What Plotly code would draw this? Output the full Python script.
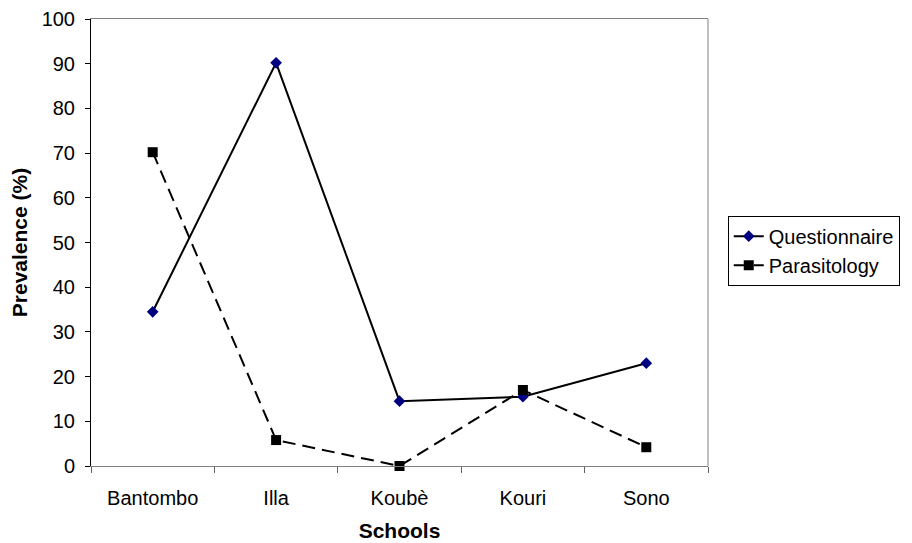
import plotly.graph_objects as go

schools = ['Bantombo', 'Illa', 'Koubè', 'Kouri', 'Sono']
questionnaire = [34.5, 90.2, 14.5, 15.5, 23.0]
parasitology = [70.2, 5.8, 0.0, 17.0, 4.2]

FONT = 'Liberation Sans, Arial, sans-serif'

fig = go.Figure()

fig.add_trace(go.Scatter(
    x=schools, y=questionnaire,
    mode='lines+markers',
    name='Questionnaire',
    line=dict(color='black', width=2),
    marker=dict(symbol='diamond', size=9, color='#000080'),
    cliponaxis=False
))

fig.add_trace(go.Scatter(
    x=schools, y=parasitology,
    mode='lines+markers',
    name='Parasitology',
    line=dict(color='black', width=2, dash='13px,7px'),
    marker=dict(symbol='square', size=10, color='black'),
    cliponaxis=False
))

# right edge of the plot area (grey frame)
fig.add_shape(type='line', xref='paper', yref='paper',
              x0=1, x1=1, y0=0, y1=1,
              line=dict(color='#808080', width=1))

# page body has an 8px margin, so the figure is 8px smaller each way
fig.update_layout(
    width=904, height=535,
    margin=dict(l=83, r=204, t=11, b=77, autoexpand=False),
    paper_bgcolor='white',
    plot_bgcolor='white',
    font=dict(family=FONT, size=20, color='black'),
    xaxis=dict(
        type='category',
        range=[-0.5, len(schools) - 0.5],
        tickson='boundaries',
        ticks='outside', ticklen=6, tickcolor='#606060', tickwidth=1,
        showline=True, linecolor='#808080', linewidth=1, mirror=True,
        showgrid=False, zeroline=False, automargin=False,
        tickfont=dict(size=20),
        ticklabelstandoff=14,
        ticklabeloverflow='allow',
        title=dict(text='<b>Schools</b>', font=dict(size=21), standoff=15),
    ),
    yaxis=dict(
        range=[0, 100], dtick=10,
        ticks='outside', ticklen=5, tickcolor='black',
        showline=True, linecolor='black', linewidth=1,
        showgrid=False, zeroline=False, automargin=False,
        tickfont=dict(size=20),
        ticklabelstandoff=6,
        ticklabeloverflow='allow',
        title=dict(text='<b>Prevalence (%)</b>', font=dict(size=21), standoff=25),
    ),
    legend=dict(
        x=1.032, y=0.56, xanchor='left', yanchor='top',
        bordercolor='black', borderwidth=1,
        font=dict(size=20),
        itemwidth=30,
    ),
    showlegend=True,
)

fig.write_html("out.html")
